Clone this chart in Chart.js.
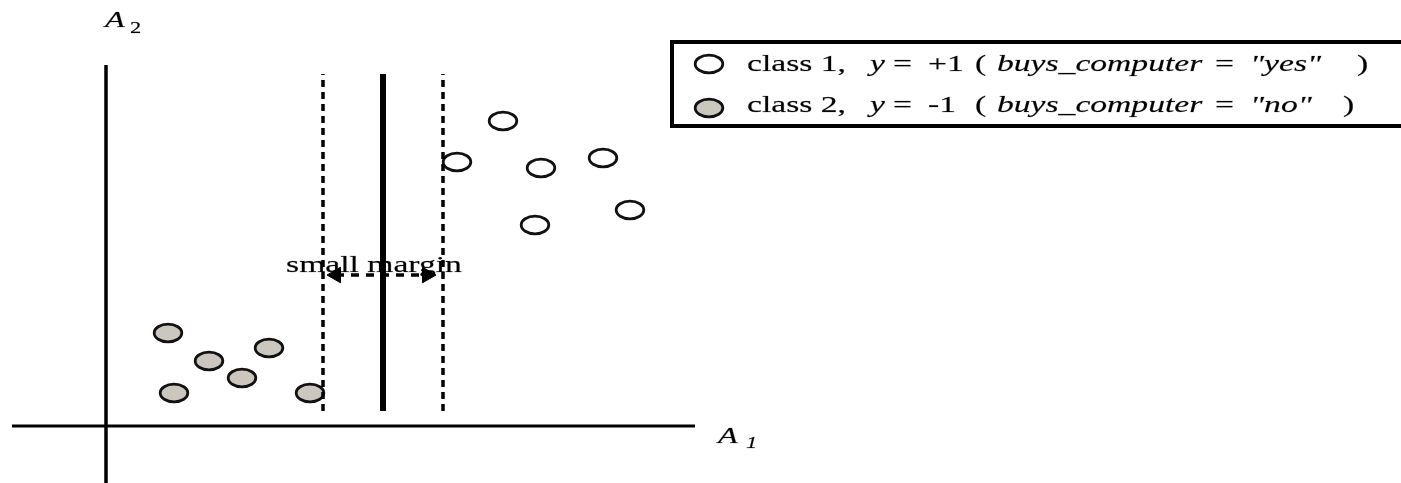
<!DOCTYPE html>
<html><head><meta charset="utf-8">
<script src="https://cdn.jsdelivr.net/npm/chart.js@4/dist/chart.umd.min.js"></script>
<style>html,body{margin:0;padding:0;background:#fff;overflow:hidden}canvas{display:block}</style>
</head><body>
<canvas id="c" width="1401" height="483"></canvas>
<script>
// ---- data (in A1/A2 units) ----
const class1X = [39.7, 35.1, 43.5, 49.7, 52.4, 42.9];
const class1Y = [30.5, 26.4, 25.8, 26.8, 21.6, 20.1];
const class2X = [6.2, 10.3, 16.3, 13.6, 6.8, 20.4];
const class2Y = [9.3, 6.5, 7.8, 4.8, 3.3, 3.3];
const hyperplaneX = 27.7;
const marginX = [21.7, 33.7];
const lineYRange = [1.5, 35.2];
const arrowX = [23.0, 32.1];
const arrowY = 15.1;
const axisXRange = [-9.4, 58.9];
const axisYRange = [-5.7, 36.1];
const marginLabel = 'small margin';
const axisLabels = ['A', '1', 'A', '2'];
const legendRow1 = [['class 1,', false, 747], ['y', true, 870], ['=', false, 893], ['+1', false, 928], ['(', false, 975], ['buys_computer', true, 997], ['=', false, 1215], ['"yes"', true, 1250], [')', false, 1357]];
const legendRow2 = [['class 2,', false, 747], ['y', true, 870], ['=', false, 893], ['-1', false, 928], ['(', false, 975], ['buys_computer', true, 997], ['=', false, 1215], ['"no"', true, 1250], [')', false, 1343]];

const GRAY = '#cbc7bf';
const SX = 1.4;
const FONT = '"Liberation Serif", "Times New Roman", serif';
function ellipseImg(fill) {
  const c = document.createElement('canvas');
  c.width = 34; c.height = 24;
  const g = c.getContext('2d');
  g.beginPath();
  g.ellipse(17, 12, 13.8, 8.8, 0, 0, 2 * Math.PI);
  g.fillStyle = fill; g.fill();
  g.lineWidth = 2.8; g.strokeStyle = '#111'; g.stroke();
  return c;
}
const openImg = ellipseImg('#ffffff');
const grayImg = ellipseImg(GRAY);

function pts(xs, ys) { return xs.map((x, i) => ({x, y: ys[i]})); }
function vline(x) { return [{x, y: lineYRange[0]}, {x, y: lineYRange[1]}]; }

function stretchText(ctx, txt, x, y, font, align) {
  ctx.save();
  ctx.font = font;
  ctx.fillStyle = '#000';
  ctx.strokeStyle = 'rgba(0,0,0,0.35)';
  ctx.lineWidth = 0.5;
  ctx.textBaseline = 'alphabetic';
  let w = ctx.measureText(txt).width * SX;
  let sx = x;
  if (align === 'center') sx = x - w / 2;
  ctx.translate(sx, y);
  ctx.scale(SX, 1);
  ctx.fillText(txt, 0, 0);
  ctx.strokeText(txt, 0, 0);
  ctx.restore();
}

const overlay = {
  id: 'overlay',
  afterDraw(chart) {
    const ctx = chart.ctx;
    const xs = chart.scales.x, ys = chart.scales.y;
    // small margin label
    stretchText(ctx, marginLabel, xs.getPixelForValue((marginX[0] + marginX[1]) / 2) - 9, ys.getPixelForValue(arrowY) - 3, '24px ' + FONT, 'center');
    // axis labels
    const a1x = xs.getPixelForValue(61.2), a1y = ys.getPixelForValue(-1.7);
    stretchText(ctx, axisLabels[0], a1x, a1y, 'italic 23px ' + FONT);
    stretchText(ctx, axisLabels[1], a1x + 28, a1y + 5, 'italic 16px ' + FONT);
    const a2x = xs.getPixelForValue(-0.1), a2y = ys.getPixelForValue(39.9);
    stretchText(ctx, axisLabels[2], a2x, a2y, 'italic 23px ' + FONT);
    stretchText(ctx, axisLabels[3], a2x + 25, a2y + 6, '16px ' + FONT);
    // legend box
    ctx.save();
    ctx.lineWidth = 4;
    ctx.strokeStyle = '#000';
    ctx.strokeRect(672, 42, 900, 84);
    ctx.drawImage(openImg, 709 - 17, 64 - 12);
    ctx.drawImage(grayImg, 709 - 17, 108 - 12);
    ctx.restore();
    legendRow1.forEach(([t, it, x]) => stretchText(ctx, t, x, 71, (it ? 'italic ' : '') + '24px ' + FONT));
    legendRow2.forEach(([t, it, x]) => stretchText(ctx, t, x, 112, (it ? 'italic ' : '') + '24px ' + FONT));
  }
};

new Chart(document.getElementById('c'), {
  type: 'scatter',
  data: {
    datasets: [
      {label: 'x-axis', data: [{x: axisXRange[0], y: 0}, {x: axisXRange[1], y: 0}], showLine: true, borderColor: '#000', borderWidth: 3, pointRadius: 0},
      {label: 'y-axis', data: [{x: 0, y: axisYRange[0]}, {x: 0, y: axisYRange[1]}], showLine: true, borderColor: '#000', borderWidth: 3.5, pointRadius: 0},
      {label: 'hyperplane', data: vline(hyperplaneX), showLine: true, borderColor: '#000', borderWidth: 6, pointRadius: 0},
      {label: 'margin-left', data: vline(marginX[0]), showLine: true, borderColor: '#000', borderWidth: 3.5, borderDash: [7, 5], pointRadius: 0},
      {label: 'margin-right', data: vline(marginX[1]), showLine: true, borderColor: '#000', borderWidth: 3.5, borderDash: [7, 5], pointRadius: 0},
      {label: 'arrow', data: [{x: arrowX[0], y: arrowY}, {x: arrowX[1], y: arrowY}], showLine: true, borderColor: '#000', borderWidth: 3.5, borderDash: [8, 7],
        pointStyle: 'triangle', rotation: [270, 90], pointRadius: 9, pointBackgroundColor: '#000', pointBorderColor: '#000', pointBorderWidth: 1},
      {label: 'class 1', data: pts(class1X, class1Y), pointStyle: openImg, pointRadius: 14},
      {label: 'class 2', data: pts(class2X, class2Y), pointStyle: grayImg, pointRadius: 14}
    ]
  },
  options: {
    responsive: false,
    animation: false,
    layout: {padding: 0, autoPadding: false},
    events: [],
    plugins: {legend: {display: false}, tooltip: {enabled: false}},
    scales: {
      x: {type: 'linear', display: false, min: -10.6, max: 129.5},
      y: {type: 'linear', display: false, min: -5.7, max: 42.6}
    }
  },
  plugins: [overlay]
});
</script>
</body></html>
